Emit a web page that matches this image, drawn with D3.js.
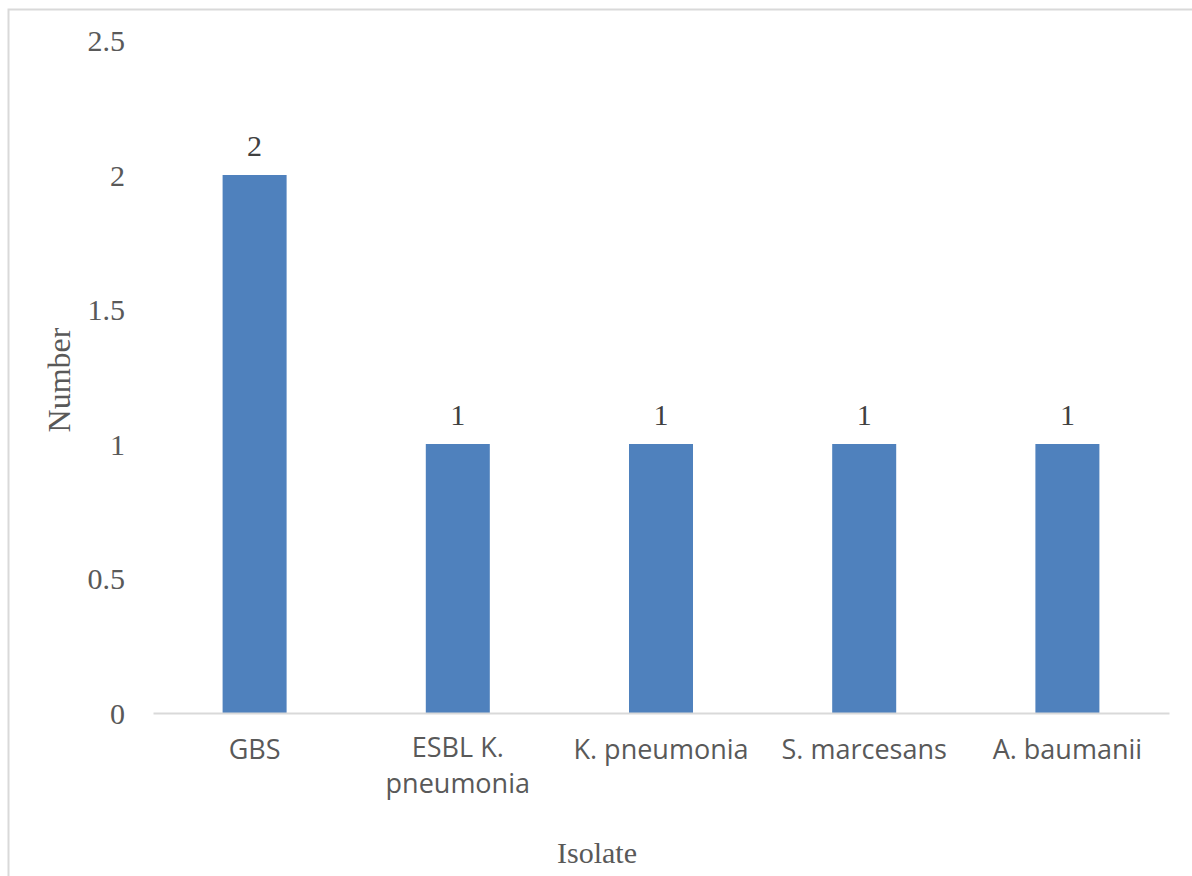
<!DOCTYPE html>
<html>
<head>
<meta charset="utf-8">
<script src="https://cdn.jsdelivr.net/npm/d3@7"></script>
<style>
  html, body { margin: 0; padding: 0; background: #fff; }
  svg { display: block; }
</style>
</head>
<body>
<svg id="chart" width="1192" height="876"></svg>
<script>
// Isolates and their counts
const categories = ["GBS", "ESBL K. pneumonia", "K. pneumonia", "S. marcesans", "A. baumanii"];
const categoryLines = [["GBS"], ["ESBL K.", "pneumonia"], ["K. pneumonia"], ["S. marcesans"], ["A. baumanii"]];
const counts = [2, 1, 1, 1, 1];
const yTicks = [0, 0.5, 1, 1.5, 2, 2.5];

const svg = d3.select("#chart");
const W = 1192, H = 876;

// outer chart border
svg.append("rect")
  .attr("x", 8.5).attr("y", 9.5)
  .attr("width", W + 20).attr("height", H + 20)
  .attr("fill", "#fff").attr("stroke", "#d9d9d9").attr("stroke-width", 2);

const plot = { left: 153, right: 1169, top: 40.5, bottom: 713 };

const x = d3.scaleBand()
  .domain(categories)
  .range([plot.left, plot.right])
  .paddingInner(0).paddingOuter(0);

const y = d3.scaleLinear()
  .domain([0, 2.5])
  .range([plot.bottom, plot.top]);

const barW = x.bandwidth() * 0.315;

// bars
svg.append("g").selectAll("rect")
  .data(categories)
  .join("rect")
  .attr("x", d => x(d) + (x.bandwidth() - barW) / 2)
  .attr("y", (d, i) => y(counts[i]))
  .attr("width", barW)
  .attr("height", (d, i) => y(0) - y(counts[i]))
  .attr("fill", "#4f81bd");

// baseline axis
const xAxis = d3.axisBottom(x).tickSize(0).tickFormat("");
const gx = svg.append("g")
  .attr("transform", `translate(0,${plot.bottom})`)
  .call(xAxis);
gx.select(".domain").attr("stroke", "#d9d9d9").attr("stroke-width", 2);

// category labels
const catG = svg.append("g")
  .attr("font-family", "'Open Sans', sans-serif")
  .attr("font-size", 27)
  .attr("fill", "#595959")
  .attr("text-anchor", "middle");
categories.forEach((c, i) => {
  const lines = categoryLines[i];
  const t = catG.append("text")
    .attr("x", x(c) + x.bandwidth() / 2)
    .attr("y", lines.length > 1 ? 757 : 759);
  lines.forEach((ln, j) => {
    t.append("tspan")
      .attr("x", x(c) + x.bandwidth() / 2)
      .attr("dy", j === 0 ? 0 : 36)
      .text(ln);
  });
});

// y axis tick labels
const yAxis = d3.axisLeft(y).tickValues(yTicks).tickSize(0).tickPadding(0)
  .tickFormat(d => String(d));
const gy = svg.append("g")
  .attr("transform", `translate(125,0)`)
  .call(yAxis);
gy.select(".domain").remove();
gy.selectAll("text")
  .attr("font-family", "'Liberation Serif', 'Times New Roman', serif")
  .attr("font-size", 30)
  .attr("fill", "#595959")
  .attr("dy", "0.34em");

// value labels
svg.append("g").selectAll("text")
  .data(categories)
  .join("text")
  .attr("x", d => x(d) + x.bandwidth() / 2)
  .attr("y", (d, i) => y(counts[i]) - 19)
  .attr("text-anchor", "middle")
  .attr("font-family", "'Liberation Serif', 'Times New Roman', serif")
  .attr("font-size", 30)
  .attr("fill", "#404040")
  .text((d, i) => counts[i]);

// axis titles
svg.append("text")
  .attr("transform", `translate(70,380) rotate(-90)`)
  .attr("text-anchor", "middle")
  .attr("font-family", "'Liberation Serif', 'Times New Roman', serif")
  .attr("font-size", 32)
  .attr("fill", "#595959")
  .text("Number");

svg.append("text")
  .attr("x", 597).attr("y", 863)
  .attr("text-anchor", "middle")
  .attr("font-family", "'Liberation Serif', 'Times New Roman', serif")
  .attr("font-size", 30)
  .attr("fill", "#595959")
  .text("Isolate");
</script>
</body>
</html>
